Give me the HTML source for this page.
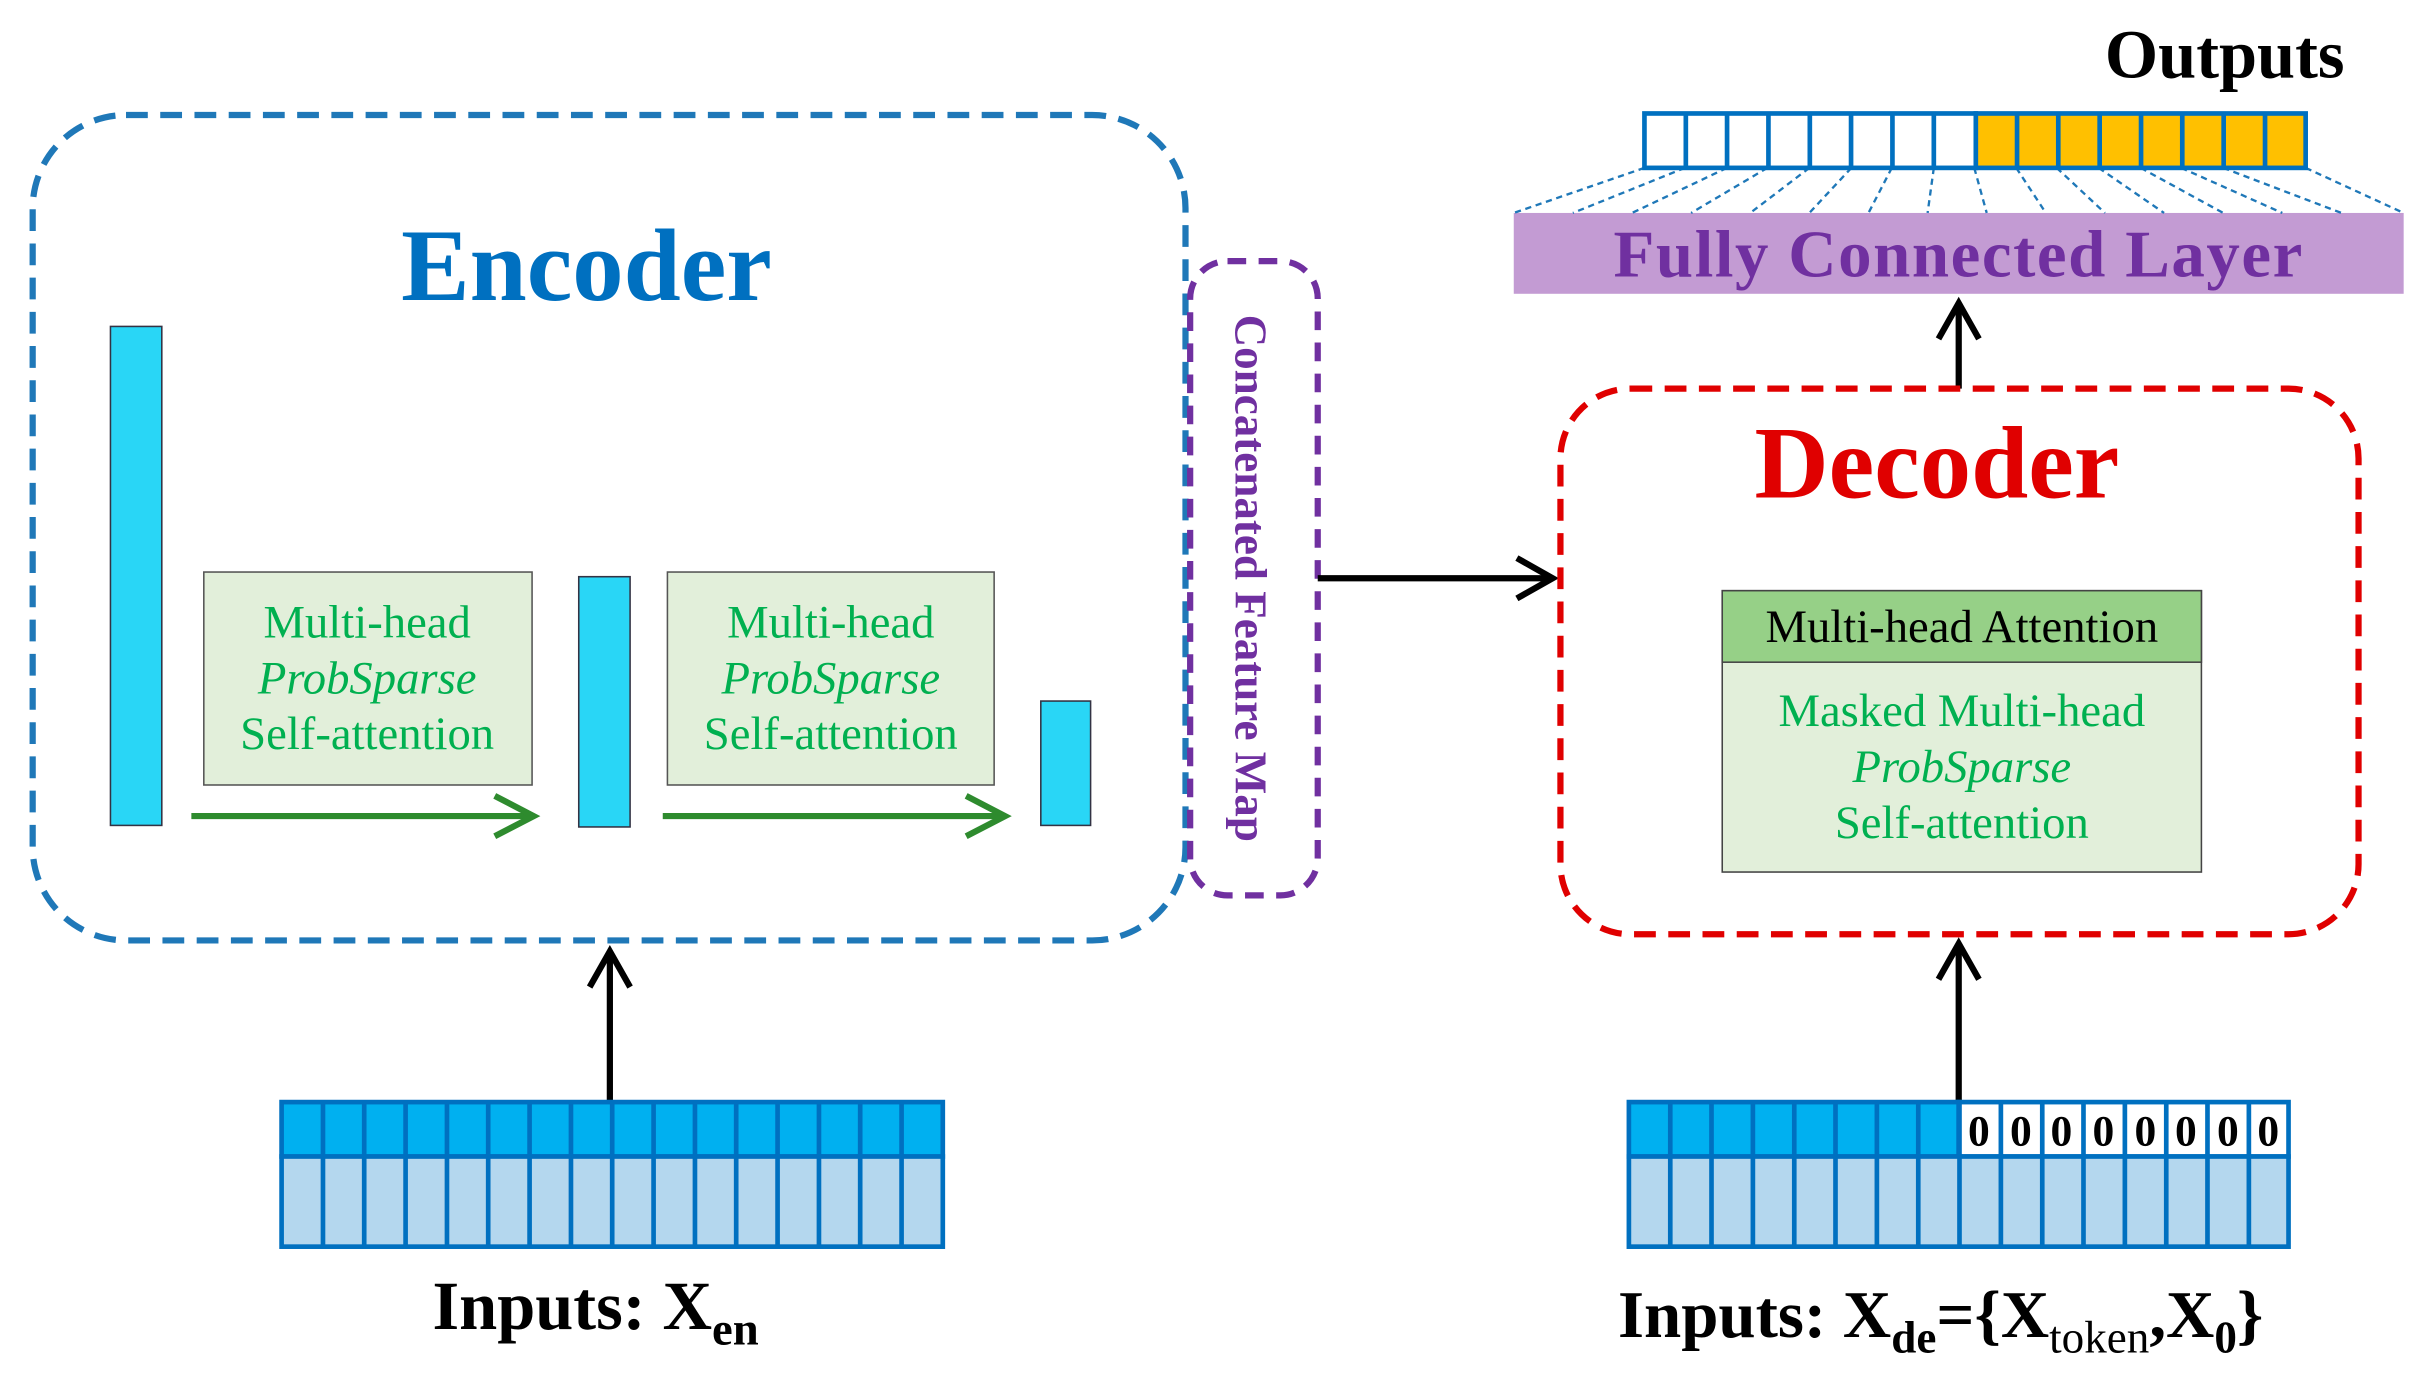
<!DOCTYPE html>
<html><head><style>
html,body{margin:0;padding:0;background:#fff;}
svg{display:block;}
</style></head><body>
<svg width="2427" height="1385" viewBox="0 0 1560 891" preserveAspectRatio="none" xmlns="http://www.w3.org/2000/svg" font-family="Liberation Serif, serif">
<!-- Encoder box -->
<rect x="21" y="74" width="741" height="531" rx="60" fill="none" stroke="#1f78b8" stroke-width="4" stroke-dasharray="14,8"/>
<text x="377" y="193" font-size="66" font-weight="bold" fill="#0070c0" text-anchor="middle">Encoder</text>
<rect x="71" y="210" width="33" height="321" fill="#29d6f6" stroke="#334" stroke-width="1"/>
<rect x="372" y="371" width="33" height="161" fill="#29d6f6" stroke="#334" stroke-width="1"/>
<rect x="669" y="451" width="32" height="80" fill="#29d6f6" stroke="#334" stroke-width="1"/>
<g font-size="30" fill="#00b050" text-anchor="middle">
<rect x="131" y="368" width="211" height="137" fill="#e2efda" stroke="#555" stroke-width="1"/>
<text x="236" y="410">Multi-head</text>
<text x="236" y="446" font-style="italic">ProbSparse</text>
<text x="236" y="482">Self-attention</text>
<rect x="429" y="368" width="210" height="137" fill="#e2efda" stroke="#555" stroke-width="1"/>
<text x="534" y="410">Multi-head</text>
<text x="534" y="446" font-style="italic">ProbSparse</text>
<text x="534" y="482">Self-attention</text>
</g>
<g stroke="#2e8b2e" stroke-width="4" fill="none">
<line x1="123" y1="525" x2="343" y2="525"/><polyline points="318,512 343,525 318,538"/>
<line x1="426" y1="525" x2="646" y2="525"/><polyline points="621,512 646,525 621,538"/>
</g>
<!-- Concatenated -->
<rect x="765" y="168" width="82" height="408" rx="24" fill="none" stroke="#7030a0" stroke-width="4" stroke-dasharray="12,8"/>
<text transform="translate(794,372) rotate(90)" font-size="29" font-weight="bold" fill="#7030a0" text-anchor="middle">Concatenated Feature Map</text>
<g stroke="#000" stroke-width="4" fill="none">
<line x1="847" y1="372" x2="998" y2="372"/><polyline points="975,359 998,372 975,385"/>
<line x1="392" y1="708" x2="392" y2="612"/><polyline points="379,635 392,612 405,635"/>
<line x1="1259" y1="708" x2="1259" y2="607"/><polyline points="1246,630 1259,607 1272,630"/>
<line x1="1259" y1="250" x2="1259" y2="195"/><polyline points="1246,218 1259,195 1272,218"/>
</g>
<!-- Decoder -->
<rect x="1003" y="250" width="513" height="351" rx="45" fill="none" stroke="#e00000" stroke-width="4" stroke-dasharray="14,8"/>
<text x="1245" y="320" font-size="66" font-weight="bold" fill="#e00000" text-anchor="middle">Decoder</text>
<rect x="1107" y="380" width="308" height="181" fill="#e2efda" stroke="#444" stroke-width="1"/>
<rect x="1107" y="380" width="308" height="46" fill="#96d087" stroke="#444" stroke-width="1"/>
<text x="1261" y="413" font-size="30" fill="#000" text-anchor="middle">Multi-head Attention</text>
<g font-size="30" fill="#00b050" text-anchor="middle">
<text x="1261" y="467">Masked Multi-head</text>
<text x="1261" y="503" font-style="italic">ProbSparse</text>
<text x="1261" y="539">Self-attention</text>
</g>
<!-- FC -->
<rect x="973" y="137" width="572" height="52" fill="#c39bd3"/>
<text x="1259" y="178" font-size="43" font-weight="bold" fill="#7030a0" text-anchor="middle" letter-spacing="1">Fully Connected Layer</text>
<g stroke="#1f78b8" stroke-width="1.5" stroke-dasharray="4,3">
<line x1="1057" y1="108" x2="973" y2="137"/>
<line x1="1083" y1="108" x2="1011" y2="137"/>
<line x1="1110" y1="108" x2="1049" y2="137"/>
<line x1="1136" y1="108" x2="1087" y2="137"/>
<line x1="1163" y1="108" x2="1125" y2="137"/>
<line x1="1190" y1="108" x2="1163" y2="137"/>
<line x1="1216" y1="108" x2="1201" y2="137"/>
<line x1="1243" y1="108" x2="1239" y2="137"/>
<line x1="1269" y1="108" x2="1277" y2="137"/>
<line x1="1296" y1="108" x2="1315" y2="137"/>
<line x1="1322" y1="108" x2="1353" y2="137"/>
<line x1="1349" y1="108" x2="1391" y2="137"/>
<line x1="1376" y1="108" x2="1429" y2="137"/>
<line x1="1402" y1="108" x2="1467" y2="137"/>
<line x1="1429" y1="108" x2="1505" y2="137"/>
<line x1="1482" y1="108" x2="1545" y2="137"/>
</g>
<g stroke="#0070c0" stroke-width="3">
<rect x="1057" y="73" width="213" height="35" fill="#fff"/>
<rect x="1270" y="73" width="212" height="35" fill="#ffc000"/>
<line x1="1083.6" y1="73" x2="1083.6" y2="108"/><line x1="1110.1" y1="73" x2="1110.1" y2="108"/>
<line x1="1136.7" y1="73" x2="1136.7" y2="108"/><line x1="1163.3" y1="73" x2="1163.3" y2="108"/>
<line x1="1189.8" y1="73" x2="1189.8" y2="108"/><line x1="1216.4" y1="73" x2="1216.4" y2="108"/>
<line x1="1243" y1="73" x2="1243" y2="108"/><line x1="1296.5" y1="73" x2="1296.5" y2="108"/>
<line x1="1323" y1="73" x2="1323" y2="108"/><line x1="1349.6" y1="73" x2="1349.6" y2="108"/>
<line x1="1376.2" y1="73" x2="1376.2" y2="108"/><line x1="1402.7" y1="73" x2="1402.7" y2="108"/>
<line x1="1429.3" y1="73" x2="1429.3" y2="108"/><line x1="1455.9" y1="73" x2="1455.9" y2="108"/>
</g>
<text x="1507" y="50" font-size="44" font-weight="bold" text-anchor="end">Outputs</text>
<!-- Encoder input -->
<g stroke="#0070c0" stroke-width="3">
<rect x="181" y="709" width="425" height="35" fill="#00b0f0"/>
<rect x="181" y="744" width="425" height="58" fill="#b4d7ee"/>
</g>
<g stroke="#0070c0" stroke-width="3">
<line x1="207.6" y1="709" x2="207.6" y2="802"/><line x1="234.1" y1="709" x2="234.1" y2="802"/>
<line x1="260.7" y1="709" x2="260.7" y2="802"/><line x1="287.3" y1="709" x2="287.3" y2="802"/>
<line x1="313.8" y1="709" x2="313.8" y2="802"/><line x1="340.4" y1="709" x2="340.4" y2="802"/>
<line x1="367" y1="709" x2="367" y2="802"/><line x1="393.5" y1="709" x2="393.5" y2="802"/>
<line x1="420.1" y1="709" x2="420.1" y2="802"/><line x1="446.7" y1="709" x2="446.7" y2="802"/>
<line x1="473.2" y1="709" x2="473.2" y2="802"/><line x1="499.8" y1="709" x2="499.8" y2="802"/>
<line x1="526.4" y1="709" x2="526.4" y2="802"/><line x1="552.9" y1="709" x2="552.9" y2="802"/>
<line x1="579.5" y1="709" x2="579.5" y2="802"/>
</g>
<text x="278" y="855" font-size="44" font-weight="bold">Inputs: X<tspan font-size="30" dy="10">en</tspan></text>
<!-- Decoder input -->
<g stroke="#0070c0" stroke-width="3">
<rect x="1047" y="709" width="212" height="35" fill="#00b0f0"/>
<rect x="1259" y="709" width="212" height="35" fill="#fff"/>
<rect x="1047" y="744" width="424" height="58" fill="#b4d7ee"/>
</g>
<g stroke="#0070c0" stroke-width="3" transform="translate(866,0)">
<line x1="207.6" y1="709" x2="207.6" y2="802"/><line x1="234.1" y1="709" x2="234.1" y2="802"/>
<line x1="260.7" y1="709" x2="260.7" y2="802"/><line x1="287.3" y1="709" x2="287.3" y2="802"/>
<line x1="313.8" y1="709" x2="313.8" y2="802"/><line x1="340.4" y1="709" x2="340.4" y2="802"/>
<line x1="367" y1="709" x2="367" y2="802"/><line x1="393.5" y1="709" x2="393.5" y2="802"/>
<line x1="420.1" y1="709" x2="420.1" y2="802"/><line x1="446.7" y1="709" x2="446.7" y2="802"/>
<line x1="473.2" y1="709" x2="473.2" y2="802"/><line x1="499.8" y1="709" x2="499.8" y2="802"/>
<line x1="526.4" y1="709" x2="526.4" y2="802"/><line x1="552.9" y1="709" x2="552.9" y2="802"/>
<line x1="579.5" y1="709" x2="579.5" y2="802"/>
</g>
<g font-size="28" font-weight="bold" text-anchor="middle">
<text x="1272" y="737">0</text><text x="1299" y="737">0</text><text x="1325" y="737">0</text><text x="1352" y="737">0</text>
<text x="1379" y="737">0</text><text x="1405" y="737">0</text><text x="1432" y="737">0</text><text x="1458" y="737">0</text>
</g>
<text x="1040" y="860" font-size="43" font-weight="bold">Inputs: X<tspan font-size="29" dy="10">de</tspan><tspan dy="-10">={X</tspan><tspan font-size="29" font-weight="normal" dy="10">token</tspan><tspan dy="-10">,X</tspan><tspan font-size="29" dy="10">0</tspan><tspan dy="-10">}</tspan></text>
</svg>
</body></html>
